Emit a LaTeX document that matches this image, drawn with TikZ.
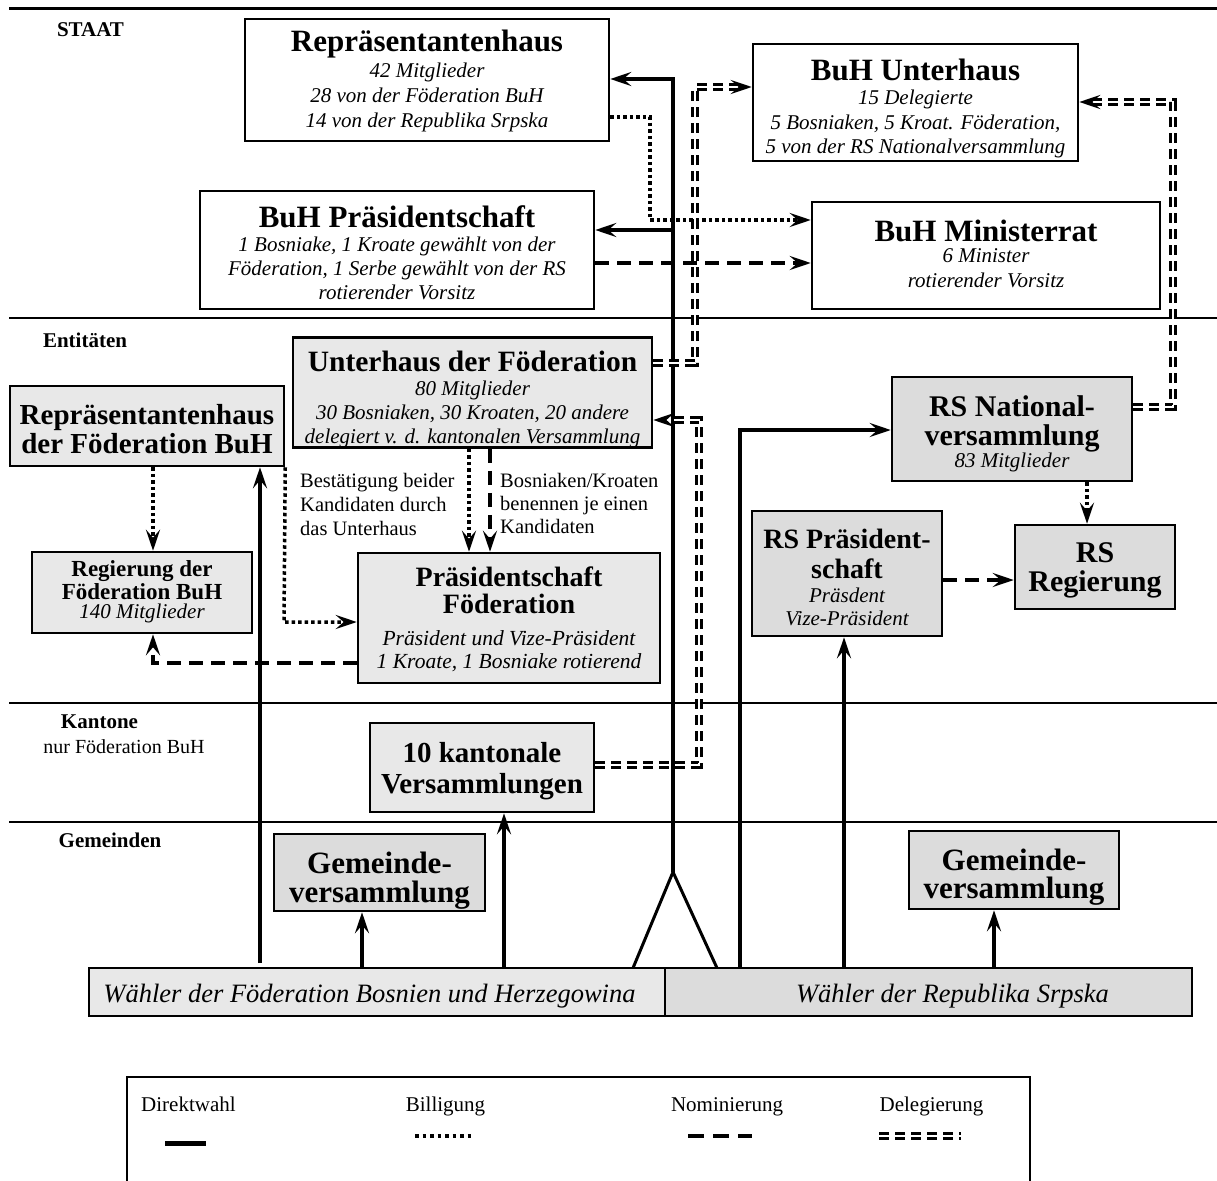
\documentclass[tikz,border=0pt]{standalone}
\usepackage{fontspec}
\setmainfont{Liberation Serif}
\usetikzlibrary{arrows.meta}
\definecolor{fedgray}{HTML}{E8E8E8}
\definecolor{rsgray}{HTML}{DCDCDC}
\newcommand\myB[1]{\fontsize{#1}{\baselineskip}\selectfont\bfseries\upshape}
\newcommand\myI[1]{\fontsize{#1}{\baselineskip}\selectfont\mdseries\itshape}
\newcommand\myH[1]{\rule{0pt}{#1pt}}
\newcommand\myD[1]{\rule[-#1pt]{0pt}{#1pt}}
\newcommand\delegpath[1]{\draw[pDeleg, shorten >=12pt] #1; \draw[tipOnly] #1;}
\tikzset{
  bsk/.style={font={\fontsize{21}{#1}\selectfont\lineskiplimit=-100pt\relax}},
  boxbase/.style={draw, line width=2.5pt, inner sep=0pt, align=center},
  boxW/.style={boxbase, fill=white},
  boxF/.style={boxbase, fill=fedgray},
  boxR/.style={boxbase, fill=rsgray},
  sz/.style 2 args={minimum width=#1, minimum height=#2},
  lab/.style={inner sep=0pt, align=left, font={\fontsize{20.5}{#1}\selectfont\lineskiplimit=-100pt\relax}},
  sec/.style={inner sep=0pt, font=\fontsize{21}{24}\selectfont\bfseries},
  secR/.style={inner sep=0pt, font=\fontsize{20}{24}\selectfont},
  legtxt/.style={inner sep=0pt, font=\fontsize{21}{24}\selectfont},
  arrowtip/.style={-{Stealth[length=21pt,width=14pt,inset=8pt]}},
  pDirect/.style={line width=4pt},
  pDot/.style={line width=3.5pt, dash pattern=on 3.5pt off 3pt},
  pDash/.style={line width=4pt, dash pattern=on 14pt off 8pt},
  pDeleg/.style={line width=2.5pt, double=white, double distance=2.5pt, dash pattern=on 10pt off 6pt},
  lnDirect/.style={pDirect, arrowtip},
  lnDot/.style={pDot, arrowtip},
  lnDash/.style={pDash, arrowtip},
  tipOnly/.style={line width=3pt, dash pattern=on 0pt off 5000pt, arrowtip},
}
\begin{document}
\begin{tikzpicture}[x=1pt,y=-1pt]
\useasboundingbox (0,0) rectangle (1217,1180);
% level separators
\draw[line width=3pt] (9,9) -- (1217,9);
\draw[line width=2.5pt] (9,318) -- (1217,318);
\draw[line width=2pt] (9,703) -- (1217,703);
\draw[line width=2pt] (9,822) -- (1217,822);
% legend frame
\draw[line width=2.5pt] (127,1190) -- (127,1077) -- (1030,1077) -- (1030,1190);

% section labels
\node[sec, anchor=base] (sStaat) at (90.5,36.7) {STAAT};
\node[sec, anchor=base] (sEnt) at (85,347.3) {Entitäten};
\node[sec, anchor=base] (sKan) at (99.5,728.3) {Kantone};
\node[secR, anchor=base] (sKanB) at (124,753.3) {nur Föderation BuH};
\node[sec, anchor=base] (sGem) at (110,847.7) {Gemeinden};

% state level
\node[boxW, bsk=25, sz={364}{122}] (rh) at (427,80) {\myB{31}\myH{33}Repräsentantenhaus\\[1pt]\myI{21}42 Mitglieder\\\myI{21}28 von der Föderation BuH\\\myI{21}14 von der Republika Srpska\myD{13}};
\node[boxW, bsk=24, sz={394}{118}] (bp) at (397,250) {\myB{31}\myH{36}BuH Präsidentschaft\\\myI{21}1 Bosniake, 1 Kroate gewählt von der\\\myI{21}Föderation, 1 Serbe gewählt von der RS\\\myI{21}rotierender Vorsitz\myD{10}};
\node[boxW, bsk=24.5, sz={325}{117}] (bu) at (915.5,102.5) {\myB{31}\myH{36}BuH Unterhaus\\\myI{21}15 Delegierte\\\myI{21}5 Bosniaken, 5 Kroat. Föderation,\\\myI{21}5 von der RS Nationalversammlung\myD{7.5}};
\node[boxW, bsk=25, sz={348}{107}] (bm) at (986,255.5) {\myB{31}\myH{39}BuH Ministerrat\\[-4pt]\myI{21}6 Minister\\\myI{21}rotierender Vorsitz\myD{22}};

% entities
\node[boxF, bsk=24, sz={359}{109}] (uf) at (472.5,392.5) {\myB{29.5}\myH{34}Unterhaus der Föderation\\\myI{21}80 Mitglieder\\\myI{21}30 Bosniaken, 30 Kroaten, 20 andere\\\myI{21}delegiert v. d. kantonalen Versammlung\myD{3}};
\node[boxF, bsk=29, sz={274}{80}] (rf) at (147,426) {\myB{29}\myH{38}Repräsentantenhaus\\\myB{29}der Föderation BuH\myD{13}};
\node[boxF, bsk=22, sz={220}{81}] (rg) at (142,592.5) {\myB{23}\myH{24}Regierung der\\[1pt]\myB{23}Föderation BuH\\[-3pt]\myI{21}140 Mitglieder\myD{15}};
\node[boxF, bsk=24, sz={302}{130}] (pf) at (509,618) {\myB{28}\myH{33}Präsidentschaft\\[3pt]\myB{28}Föderation\\[8pt]\myI{21.5}Präsident und Vize-Präsident\\[-1pt]\myI{21.5}1 Kroate, 1 Bosniake rotierend\myD{15}};
\node[boxR, bsk=28, sz={240}{104}] (rn) at (1012,429) {\myB{30}\myH{39}RS National-\\[1pt]\myB{30}versammlung\\[-6pt]\myI{21}83 Mitglieder\myD{14}};
\node[boxR, bsk=29, sz={160}{84}] (rr) at (1095,567) {\myB{30}\myH{37}RS\\\myB{30}Regierung\myD{18}};
\node[boxR, bsk=24, sz={190}{125}] (rp) at (847,573.5) {\myB{28}\myH{37}RS Präsident-\\[6pt]\myB{28}schaft\\\myI{21}Präsdent\\[-1pt]\myI{21}Vize-Präsident\myD{11}};

% cantons and municipalities
\node[boxF, bsk=31, sz={224}{89}] (kv) at (482,767.5) {\myB{29}\myH{39}10 kantonale\\\myB{29}Versammlungen\myD{19}};
\node[boxR, bsk=29, sz={211}{77}] (gf) at (379.5,872.5) {\myB{31}\myH{39}Gemeinde-\\\myB{31}versammlung\myD{9}};
\node[boxR, bsk=28, sz={210}{78}] (gr) at (1014,870) {\myB{31}\myH{39}Gemeinde-\\\myB{31}versammlung\myD{11}};

% voters
\node[boxF, bsk=26, sz={576}{48}] (wf) at (377,992) {\myI{26.5}\myH{34}Wähler der Föderation Bosnien und Herzegowina\myD{14}\hspace*{15pt}};
\node[boxR, bsk=26, sz={527}{48}] (wr) at (928.5,992) {\hspace*{48pt}\myI{26.5}\myH{34}Wähler der Republika Srpska\myD{14}};

% free labels
\node[lab=24, anchor=north west] (lbA) at (300,471) {\myH{16}Bestätigung beider\\Kandidaten durch\\das Unterhaus};
\node[lab=23, anchor=north west] (lbB) at (500,471) {\myH{16}Bosniaken/Kroaten\\benennen je einen\\Kandidaten};

% ---- direct election (solid)
\coordinate (fk) at (673,872);
\coordinate (fl) at (633,968);
\coordinate (fr) at (717,968);
\coordinate (t1) at (673,79);
\coordinate (t2) at (673,230);
\draw[line width=3pt] (fl) -- (fk) -- (fr);
\draw[lnDirect] (fk) -- (t1) -- (t1 -| rh.east);
\draw[lnDirect] (t2) -- (t2 -| bp.east);
\coordinate (v1) at (260,963);
\draw[lnDirect] (v1) -- (v1 |- rf.south);
\coordinate (v2) at (362,968);
\draw[lnDirect] (v2) -- (v2 |- gf.south);
\coordinate (v3) at (504,968);
\draw[lnDirect] (v3) -- (v3 |- kv.south);
\coordinate (v4) at (740,968);
\coordinate (v4b) at (740,430);
\draw[lnDirect] (v4) -- (v4b) -- (v4b -| rn.west);
\coordinate (v5) at (844,968);
\draw[lnDirect] (v5) -- (v5 |- rp.south);
\coordinate (v6) at (994,968);
\draw[lnDirect] (v6) -- (v6 |- gr.south);

% ---- approval (dotted)
\coordinate (d1) at (650,117);
\coordinate (d2) at (650,220);
\draw[lnDot] (d1 -| rh.east) -- (d1) -- (d2) -- (d2 -| bm.west);
\coordinate (d3) at (153,500);
\draw[lnDot] (d3 |- rf.south) -- (d3 |- rg.north);
\coordinate (d4) at (284,622);
\draw[lnDot] (rf.south east) -- (d4) -- (d4 -| pf.west);
\coordinate (d5) at (469,500);
\draw[lnDot] (d5 |- uf.south) -- (d5 |- pf.north);
\coordinate (d6) at (1087,500);
\draw[lnDot] (d6 |- rn.south) -- (d6 |- rr.north);

% ---- nomination (dashed)
\coordinate (n1) at (700,263);
\draw[lnDash] (n1 -| bp.east) -- (n1 -| bm.west);
\coordinate (n2) at (490,500);
\draw[lnDash] (n2 |- uf.south) -- (n2 |- pf.north);
\coordinate (n3) at (153,663);
\draw[lnDash] (n3 -| pf.west) -- (n3) -- (n3 |- rg.south);
\coordinate (n4) at (980,580);
\draw[lnDash] (n4 -| rp.east) -- (n4 -| rr.west);

% ---- delegation (double dashed)
\coordinate (e1) at (695,363);
\coordinate (e2) at (695,87);
\delegpath{(e1 -| uf.east) -- (e1) -- (e2) -- (e2 -| bu.west)}
\coordinate (e3) at (699,765);
\coordinate (e4) at (699,420);
\delegpath{(e3 -| kv.east) -- (e3) -- (e4) -- (e4 -| uf.east)}
\coordinate (e5) at (1173,407);
\coordinate (e6) at (1173,102);
\delegpath{(e5 -| rn.east) -- (e5) -- (e6) -- (e6 -| bu.east)}

% ---- legend
\node[legtxt, anchor=base west] (lg1) at (141,1111.7) {Direktwahl};
\node[legtxt, anchor=base] (lg2) at (445.5,1111.7) {Billigung};
\node[legtxt, anchor=base] (lg3) at (727,1111.7) {Nominierung};
\node[legtxt, anchor=base] (lg4) at (931.5,1111.7) {Delegierung};
\coordinate (ls1a) at (165,1143); \coordinate (ls1b) at (206,1143);
\draw[line width=5pt] (ls1a) -- (ls1b);
\coordinate (ls2a) at (415,1136); \coordinate (ls2b) at (473,1136);
\draw[line width=3.5pt, dash pattern=on 3.5pt off 4pt] (ls2a) -- (ls2b);
\coordinate (ls3a) at (688,1136); \coordinate (ls3b) at (752,1136);
\draw[line width=4pt, dash pattern=on 16pt off 9pt] (ls3a) -- (ls3b);
\coordinate (ls4a) at (879,1136); \coordinate (ls4b) at (961,1136);
\draw[pDeleg] (ls4a) -- (ls4b);
\end{tikzpicture}
\end{document}
